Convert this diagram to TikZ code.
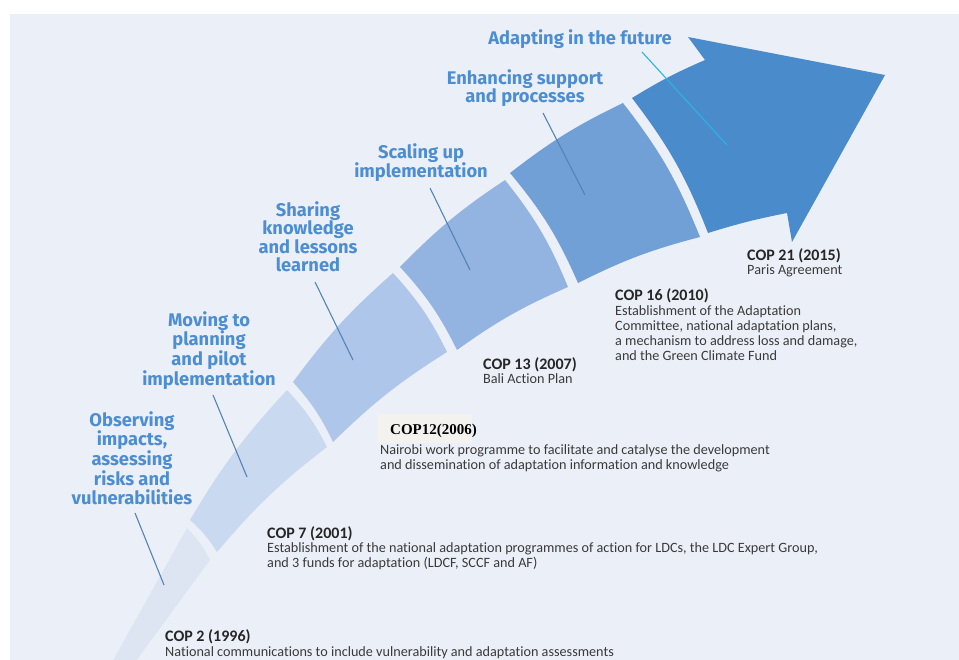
\documentclass[tikz,border=0pt]{standalone}
\usepackage{fontspec}
\setmainfont{Carlito}[Ligatures=NoCommon]
\newfontfamily\headfont{Fira Sans}
\newfontfamily\copserif{Liberation Serif}
\definecolor{bg}{HTML}{EBF0F8}
\definecolor{seg1}{HTML}{DDE5F3}
\definecolor{seg2}{HTML}{C9D9F0}
\definecolor{seg3}{HTML}{AEC6E9}
\definecolor{seg4}{HTML}{93B4E0}
\definecolor{seg5}{HTML}{70A0D6}
\definecolor{seg6}{HTML}{4A8CCB}
\definecolor{headblue}{HTML}{4D8DD2}
\definecolor{leader}{HTML}{5583B8}
\definecolor{leadcyan}{HTML}{2DB3DF}
\definecolor{bodytext}{HTML}{3A3A3A}
\definecolor{cream}{HTML}{F3F2EE}
\begin{document}
\begin{tikzpicture}[x=1pt,y=1pt,
  head/.style={font=\headfont\bfseries\fontsize{18.3}{18.6}\selectfont, text=headblue, align=center, inner sep=0pt, anchor=north},
  coptitle/.style={font=\bfseries\fontsize{16}{15}\selectfont, text=black!85, inner sep=0pt, anchor=base west},
  copbody/.style={font=\fontsize{14.2}{15}\selectfont, text=bodytext, align=left, inner sep=0pt, anchor=north west},
  leadline/.style={draw=leader, line width=1.1pt},
]
\useasboundingbox (0,0) rectangle (959,-660);
\fill[white] (0,0) rectangle (959,-660);
\fill[bg] (10,-14) rectangle (959,-660);
\begin{scope}
\clip (10,-14) rectangle (959,-660);
% band segments
\fill[seg1] (102,-680) -- (187,-528) to[bend left=8] (210,-560) -- (122,-680) -- cycle;
\fill[seg2] (217,-552) to[bend right=8] (190,-520) to[bend left=6] (287,-390) to[bend left=8] (327,-447) to[bend right=6] (217,-552) -- cycle;
\fill[seg3] (333,-442) to[bend right=8] (293,-382) to[bend left=6] (393,-273) to[bend left=8] (447,-352) to[bend right=6] (333,-442) -- cycle;
\fill[seg4] (457,-350) to[bend right=8] (400,-267) to[bend left=6] (505,-180) to[bend left=8] (568,-287) to[bend right=6] (457,-350) -- cycle;
\fill[seg5] (578,-283) to[bend right=8] (510,-173) to[bend left=6] (623,-103) to[bend left=8] (700,-237) to[bend right=6] (578,-283) -- cycle;
\fill[seg6] (708,-233) to[bend right=8] (632,-98) to[bend left=4] (705,-60) -- (688,-37) -- (885,-75) -- (792,-242) -- (787,-213) to[bend right=3] (708,-233) -- cycle;
% COP12 background
\fill[cream] (377,-414) rectangle (472,-443);
\end{scope}
% headings
\node[head] (hAdapt) at (580,-29) {Adapting in the future};
\node[head] (hEnh) at (525,-69) {Enhancing support\\and processes};
\node[head] (hScale) at (421,-143) {Scaling up\\implementation};
\node[head] (hShare) at (308,-201) {Sharing\\knowledge\\and lessons\\learned};
\node[head] (hMove) at (209,-311) {Moving to\\planning\\and pilot\\implementation};
\node[head] (hObs) at (132,-411) {Observing\\impacts,\\assessing\\risks and\\vulnerabilities};
% leader lines
\coordinate (aA) at (642,-52); \coordinate (aB) at (727,-145);
\coordinate (eA) at (543,-113); \coordinate (eB) at (585,-195);
\coordinate (sA) at (430,-188); \coordinate (sB) at (470,-270);
\coordinate (kA) at (315,-282); \coordinate (kB) at (353,-360);
\coordinate (mA) at (213,-395); \coordinate (mB) at (247,-477);
\coordinate (oA) at (135,-513); \coordinate (oB) at (164,-585);
\draw[leadline, draw=leadcyan] (aA) -- (aB);
\draw[leadline] (eA) -- (eB);
\draw[leadline] (sA) -- (sB);
\draw[leadline] (kA) -- (kB);
\draw[leadline] (mA) -- (mB);
\draw[leadline] (oA) -- (oB);
% COP texts
\node[coptitle] (t21) at (747,-261) {COP 21 (2015)};
\node[copbody] (b21) at (747,-265) {Paris Agreement};
\node[coptitle] (t16) at (615,-301) {COP 16 (2010)};
\node[copbody] (b16) at (615,-305) {Establishment of the Adaptation\\Committee, national adaptation plans,\\a mechanism to address loss and damage,\\and the Green Climate Fund};
\node[coptitle] (t13) at (483,-370) {COP 13 (2007)};
\node[copbody] (b13) at (483,-373) {Bali Action Plan};
\node[coptitle, font=\copserif\bfseries\fontsize{15}{15}\selectfont, text=black] (t12) at (390,-435) {COP12(2006)};
\node[copbody] (b12) at (380,-444) {Nairobi work programme to facilitate and catalyse the development\\and dissemination of adaptation information and knowledge};
\node[coptitle] (t7) at (267,-538) {COP 7 (2001)};
\node[copbody] (b7) at (267,-542) {Establishment of the national adaptation programmes of action for LDCs, the LDC Expert Group,\\and 3 funds for adaptation (LDCF, SCCF and AF)};
\node[coptitle] (t2) at (165,-641) {COP 2 (1996)};
\node[copbody] (b2) at (165,-646.5) {National communications to include vulnerability and adaptation assessments};
\end{tikzpicture}
\end{document}
